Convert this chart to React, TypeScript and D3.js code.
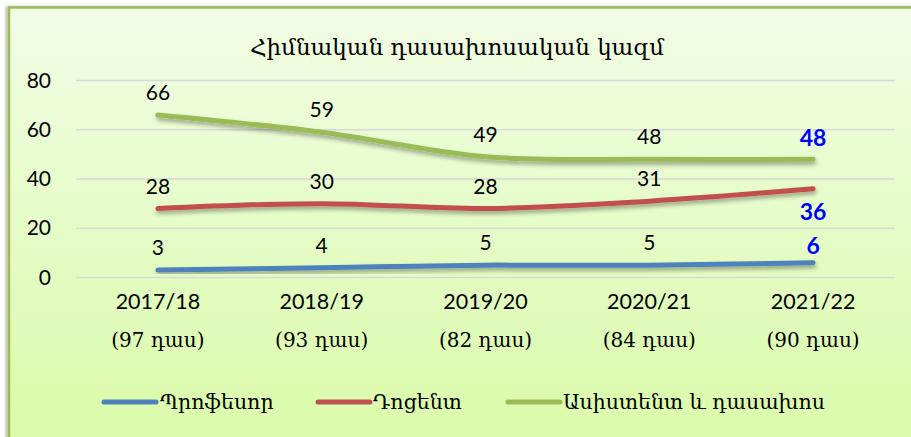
import * as d3 from 'd3'

const years = ['2017/18', '2018/19', '2019/20', '2020/21', '2021/22']
const lessons = ['(97 դաս)', '(93 դաս)', '(82 դաս)', '(84 դաս)', '(90 դաս)']
const professor = [3, 4, 5, 5, 6]
const docent = [28, 30, 28, 31, 36]
const assistant = [66, 59, 49, 48, 48]
const yTicks = [0, 20, 40, 60, 80]

const seriesList = [
  { name: 'Պրոֆեսոր', values: professor, color: '#4F81BD', lastDy: -9 },
  { name: 'Դոցենտ', values: docent, color: '#C0504D', lastDy: 31 },
  { name: 'Ասիստենտ և դասախոս', values: assistant, color: '#9BBB59', lastDy: -13 },
]

const W = 911
const H = 437
const armFont = "'DejaVu Serif', serif"
const numFont = "Lato, 'DejaVu Serif', sans-serif"

export default function App() {
  const x = d3.scaleBand().domain(years).range([76, 895])
  const y = d3.scaleLinear().domain([0, 80]).range([277.5, 80.5])
  const cx = (i: number) => (x(years[i]) ?? 0) + x.bandwidth() / 2
  const line = d3
    .line<number>()
    .x((_, i) => cx(i))
    .y((d) => y(d))
    .curve(d3.curveCatmullRom.alpha(0.5))

  const legendItems = [
    { x0: 104, tx: 160 },
    { x0: 318, tx: 373 },
    { x0: 508, tx: 563 },
  ]

  return (
    <svg width={W} height={H} style={{ position: 'absolute', left: 0, top: 0 }}>
      <defs>
        <linearGradient id="bg" x1="0" y1="0" x2="0" y2="1">
          <stop offset="0" stopColor="#F2FDE6" />
          <stop offset="1" stopColor="#D8FBA6" />
        </linearGradient>
        <filter id="sh" x="-10%" y="-50%" width="120%" height="200%">
          <feDropShadow dx="1" dy="3" stdDeviation="2" floodColor="#000" floodOpacity="0.35" />
        </filter>
        <filter id="boxsh" x="-5%" y="-5%" width="110%" height="110%">
          <feDropShadow dx="-2" dy="0" stdDeviation="1.5" floodColor="#000" floodOpacity="0.3" />
        </filter>
      </defs>
      <rect x={0} y={0} width={W} height={H} fill="#fff" />
      <rect x={9} y={7.5} width={W + 20} height={H + 20} fill="url(#bg)" stroke="#9BBB59" strokeWidth={2.5} filter="url(#boxsh)" />

      <text x={457} y={55} textAnchor="middle" fontFamily={armFont} fontSize={23} fontWeight={500} fill="#000">
        Հիմնական դասախոսական կազմ
      </text>

      {yTicks.map((t) => (
        <g key={t}>
          <line x1={76} x2={895} y1={y(t)} y2={y(t)} stroke="#D9D9D9" strokeWidth={1.3} />
          <text x={51} y={y(t) + 7} textAnchor="end" fontFamily={numFont} fontSize={21} fill="#000">
            {t}
          </text>
        </g>
      ))}

      {years.map((yr, i) => (
        <g key={yr}>
          <text x={cx(i)} y={309} textAnchor="middle" fontFamily={numFont} fontSize={21.5} fill="#000">
            {yr}
          </text>
          <text x={cx(i)} y={347} textAnchor="middle" fontFamily={armFont} fontSize={20} fill="#000">
            {lessons[i]}
          </text>
        </g>
      ))}

      {seriesList.map((s) => (
        <path
          key={s.name}
          d={line(s.values) ?? ''}
          fill="none"
          stroke={s.color}
          strokeWidth={5}
          strokeLinecap="round"
          filter="url(#sh)"
        />
      ))}

      {seriesList.map((s) =>
        s.values.map((v, i) =>
          i < s.values.length - 1 ? (
            <text key={s.name + i} x={cx(i)} y={y(v) - 15} textAnchor="middle" fontFamily={numFont} fontSize={21} fill="#000">
              {v}
            </text>
          ) : (
            <text key={s.name + i} x={cx(i)} y={y(v) + s.lastDy} textAnchor="middle" fontFamily={numFont} fontWeight="bold" fontSize={23} fill="#0000FF">
              {v}
            </text>
          ),
        ),
      )}

      {seriesList.map((s, k) => (
        <g key={s.name}>
          <line x1={legendItems[k].x0} x2={legendItems[k].x0 + 52} y1={402} y2={402} stroke={s.color} strokeWidth={5} strokeLinecap="round" />
          <text x={legendItems[k].tx} y={409} fontFamily={armFont} fontSize={20.5} fill="#000">
            {s.name}
          </text>
        </g>
      ))}
    </svg>
  )
}
